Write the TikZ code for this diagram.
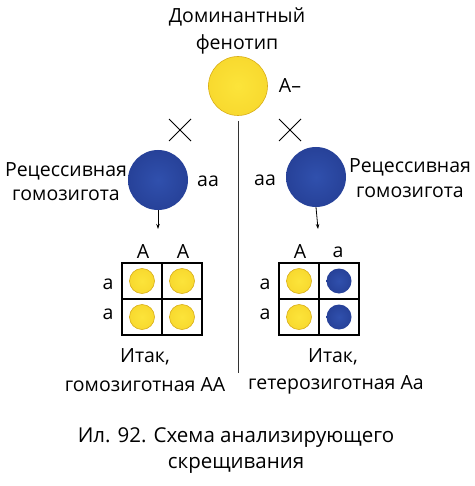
\documentclass[tikz,border=0pt]{standalone}
\usepackage{fontspec}
\setmainfont{Open Sans}
\usetikzlibrary{arrows.meta,calc}
\definecolor{yin}{HTML}{FCE43A}
\definecolor{yout}{HTML}{F0C418}
\definecolor{yline}{HTML}{D9AE18}
\definecolor{bin}{HTML}{3050AD}
\definecolor{bout}{HTML}{1A2D7C}
\pgfdeclareradialshading{yball}{\pgfpoint{0bp}{0bp}}{color(0bp)=(yin); color(30bp)=(yin!60!yout); color(50bp)=(yout)}
\pgfdeclareradialshading{bball}{\pgfpoint{0bp}{0bp}}{color(0bp)=(bin); color(30bp)=(bin!50!bout); color(50bp)=(bout)}
\tikzset{
  lbl/.style={font=\fontsize{19.5}{22}\selectfont, inner sep=0pt, align=center},
  ysph/.style={circle, shading=yball, draw=yline, line width=0.6pt, inner sep=0pt},
  bsph/.style={circle, shading=bball, inner sep=0pt},
  grid/.style={draw=black, line width=1.1pt},
  crossln/.style={line width=1pt},
  dnarrow/.style={line width=0.8pt, -{Stealth[length=5pt,width=3.5pt]}}
}
\begin{document}
\begin{tikzpicture}[x=1pt,y=-1pt]
\useasboundingbox (0,0) rectangle (474,486);
% top
\node[lbl] (dom) at (237,17) {Доминантный};
\node[lbl] (fen) at (237,44) {фенотип};
\node[ysph, minimum size=59pt] (P) at (238,86) {};
\node[lbl] (Aminus) at (290,86) {А–};
% divider
\coordinate (vt) at (238,121);
\coordinate (vb) at (238,373);
\draw[line width=0.8pt, black!80] (vt) -- (vb);
% crosses
\coordinate (c1) at (180,130);
\coordinate (c2) at (290,130);
\foreach \c in {c1,c2}{
  \draw[crossln] ($(\c)+(-11,-11)$) -- ($(\c)+(11,11)$);
  \draw[crossln] ($(\c)+(-11,11)$) -- ($(\c)+(11,-11)$);
}
% left recessive
\node[bsph, minimum size=60pt] (L) at (158,180) {};
\node[lbl] (laa) at (208,181) {аа};
\node[lbl] (lr1) at (66,171) {Рецессивная};
\node[lbl] (lr2) at (66,195) {гомозигота};
\coordinate (la) at (158,229);
\draw[dnarrow] (L.south) -- (la);
% right recessive
\node[bsph, minimum size=60pt] (R) at (316,177) {};
\node[lbl] (raa) at (265,180) {аа};
\node[lbl] (rr1) at (410,167) {Рецессивная};
\node[lbl] (rr2) at (410,192) {гомозигота};
\coordinate (ra) at (318,229);
\draw[dnarrow] (R.south) -- (ra);
% left grid
\draw[grid] (122,263) rectangle (202,335);
\draw[grid] (162,263) -- (162,335);
\draw[grid] (122,299) -- (202,299);
\node[lbl] (lhA1) at (143,252) {А};
\node[lbl] (lhA2) at (183,252) {А};
\node[lbl] (lva1) at (108,284) {а};
\node[lbl] (lva2) at (108,314) {а};
\node[ysph, minimum size=25pt] (l11) at (142,281) {};
\node[ysph, minimum size=25pt] (l12) at (182,281) {};
\node[ysph, minimum size=25pt] (l21) at (142,317) {};
\node[ysph, minimum size=25pt] (l22) at (182,317) {};
\node[lbl] (lt1) at (145,357) {Итак,};
\node[lbl] (lt2) at (145,385) {гомозиготная АА};
% right grid
\draw[grid] (279,263) rectangle (359,335);
\draw[grid] (319,263) -- (319,335);
\draw[grid] (279,299) -- (359,299);
\node[lbl] (rhA) at (300,252) {А};
\node[lbl] (rha) at (338,252) {а};
\node[lbl] (rva1) at (265,284) {а};
\node[lbl] (rva2) at (265,314) {а};
\node[ysph, minimum size=25pt] (r11) at (299,281) {};
\node[bsph, minimum size=25pt] (r12) at (339,281) {};
\node[ysph, minimum size=25pt] (r21) at (299,317) {};
\node[bsph, minimum size=25pt] (r22) at (339,317) {};
\node[lbl] (rt1) at (333,357) {Итак,};
\node[lbl] (rt2) at (336,385) {гетерозиготная Аа};
% caption
\node[lbl, font=\fontsize{20.5}{24}\selectfont] (cap1) at (236,438) {Ил. 92. Схема анализирующего};
\node[lbl, font=\fontsize{20.5}{24}\selectfont] (cap2) at (236,465) {скрещивания};
\end{tikzpicture}
\end{document}
